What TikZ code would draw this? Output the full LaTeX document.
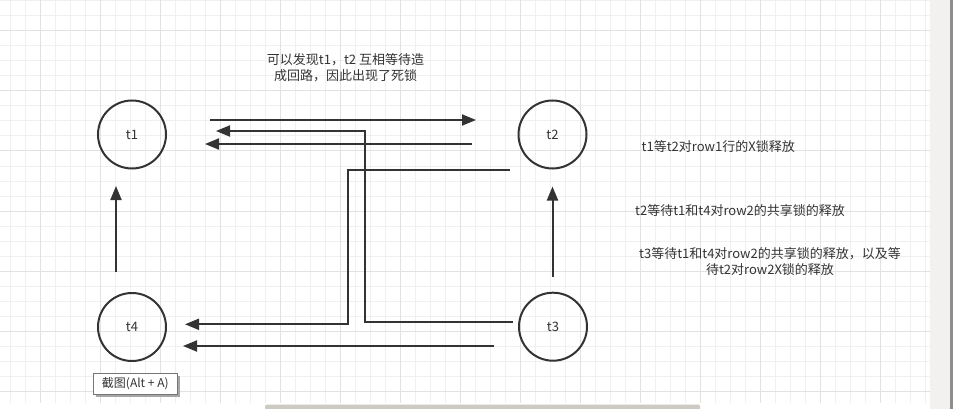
\documentclass[tikz,border=0pt]{standalone}
\usepackage{fontspec}
\setmainfont{Liberation Sans}
\newfontfamily\cjk{Noto Sans CJK SC}
\usetikzlibrary{arrows.meta}
\definecolor{ink}{HTML}{333333}
\definecolor{gridminor}{HTML}{F0F0F0}
\definecolor{gridmajor}{HTML}{E2E2DF}
\definecolor{panel}{HTML}{F2F1EF}
\definecolor{paneledge}{HTML}{8F8D88}
\definecolor{scroll}{HTML}{CDCAC3}
\definecolor{tipedge}{HTML}{767676}
\begin{document}
\begin{tikzpicture}[x=1pt,y=-1pt,
  proc/.style={circle, draw=ink, line width=2pt, minimum size=68pt, inner sep=0pt,
    font=\cjk\fontsize{13}{16}\selectfont, text=ink},
  conn/.style={draw=ink, line width=2pt, -{Triangle[length=14pt,width=11pt]}},
  note/.style={font=\cjk\fontsize{13}{16}\selectfont, text=ink, align=center, inner sep=0pt},
  tip/.style={draw=tipedge, fill=white, line width=1pt, font=\cjk\fontsize{12}{14}\selectfont,
    text=ink, minimum width=84pt, minimum height=21pt, inner sep=0pt}]
% canvas
\fill[white] (0,0) rectangle (953,409);
\useasboundingbox (0,0) rectangle (953,409);
% grid
\foreach \i in {0,...,61} \draw[gridminor, line width=1pt] ({10.7+15*\i},0) -- ({10.7+15*\i},403);
\foreach \i in {0,...,26} \draw[gridminor, line width=1pt] (0,{1+15*\i}) -- (930,{1+15*\i});
\foreach \i in {0,...,14} \draw[gridmajor, line width=1pt] ({40.7+60*\i},0) -- ({40.7+60*\i},403);
\foreach \i in {0,...,6} \draw[gridmajor, line width=1pt] (0,{31+60*\i}) -- (930,{31+60*\i});
% side panel and scrollbar
\fill[panel] (930,0) rectangle (950,409);
\fill[paneledge] (950,0) rectangle (953,409);
\fill[scroll, rounded corners=1.5pt] (265,404.5) rectangle (700,410);
% nodes
\node[proc] (t1) at (132,134.5) {t1};
\node[proc] (t2) at (552.5,134.5) {t2};
\node[proc] (t3) at (553,326.7) {t3};
\node[proc] (t4) at (132,327) {t4};
% connector end points
\coordinate (a1s) at (210,120);   \coordinate (a1e) at (476,120);
\coordinate (a2s) at (513,322);   \coordinate (a2k) at (365,131);  \coordinate (a2e) at (216,131);
\coordinate (a3s) at (472,144);   \coordinate (a3e) at (205,144);
\coordinate (a4s) at (510,170);   \coordinate (a4k) at (348,324.3);  \coordinate (a4e) at (185,324.3);
\coordinate (a5s) at (494,346);   \coordinate (a5e) at (183,346);
\coordinate (a6s) at (116,272);   \coordinate (a6e) at (116,186);
\coordinate (a7s) at (552.5,277); \coordinate (a7e) at (552.5,186.5);
% connectors
\draw[conn] (a1s) -- (a1e);
\draw[conn] (a2s) -| (a2k) -- (a2e);
\draw[conn] (a3s) -- (a3e);
\draw[conn] (a4s) -| (a4k) -- (a4e);
\draw[conn] (a5s) -- (a5e);
\draw[conn] (a6s) -- (a6e);
\draw[conn] (a7s) -- (a7e);
% texts
\node[note] (n0) at (345.5,67.5) {可以发现t1，t2 互相等待造\\成回路，因此出现了死锁};
\node[note, anchor=west] (n1) at (641.5,147) {t1等t2对row1行的X锁释放};
\node[note, anchor=west] (n2) at (635,211) {t2等待t1和t4对row2的共享锁的释放};
\node[note] (n3) at (770,261.5) {t3等待t1和t4对row2的共享锁的释放，以及等\\待t2对row2X锁的释放};
% tooltip
\fill[black!35] (95.5,375.5) rectangle (179.5,396.5);
\node[tip] (tt) at (135.3,383.8) {截图(Alt + A)};
\end{tikzpicture}
\end{document}
